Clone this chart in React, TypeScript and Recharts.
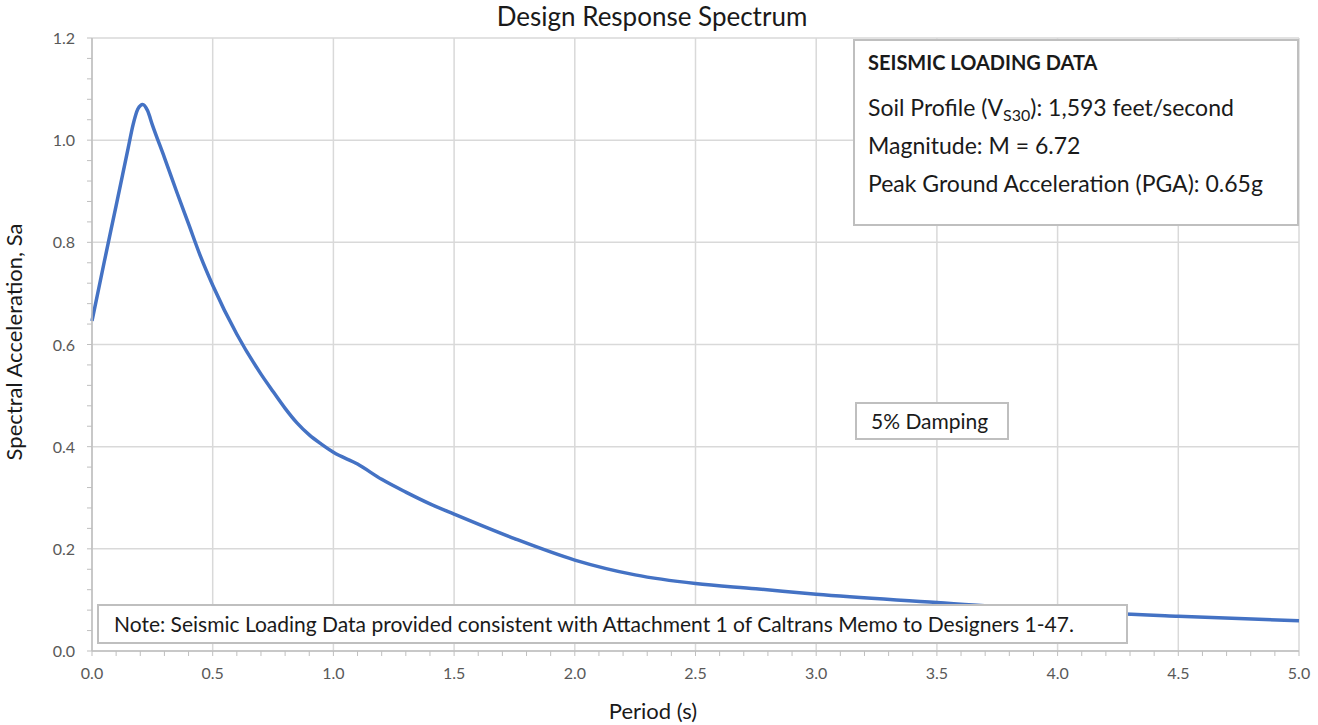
import React from 'react';
import { LineChart, Line, XAxis, YAxis, CartesianGrid } from 'recharts';

// period (s) vs spectral acceleration (g)
const periods = [0.0, 0.05, 0.1, 0.15, 0.17, 0.19, 0.21, 0.23, 0.25, 0.3, 0.35, 0.4, 0.45, 0.5, 0.6, 0.7, 0.75, 0.8, 0.85, 0.9, 0.95, 1.0, 1.1, 1.2, 1.3, 1.4, 1.5, 1.75, 2.0, 2.25, 2.5, 2.75, 3.0, 3.5, 4.0, 4.5, 5.0];
const saValues = [0.646, 0.76, 0.872, 0.985, 1.03, 1.061, 1.07, 1.058, 1.03, 0.966, 0.9, 0.836, 0.772, 0.716, 0.62, 0.542, 0.508, 0.475, 0.446, 0.423, 0.405, 0.389, 0.366, 0.336, 0.311, 0.288, 0.268, 0.22, 0.178, 0.149, 0.132, 0.122, 0.111, 0.095, 0.079, 0.068, 0.059];

const xMajor = [0, 0.5, 1, 1.5, 2, 2.5, 3, 3.5, 4, 4.5, 5];
const yMajor = [0, 0.2, 0.4, 0.6, 0.8, 1.0, 1.2];
const xMinor = Array.from({ length: 51 }, (_, i) => +(i * 0.1).toFixed(2));
const yMinor = Array.from({ length: 31 }, (_, i) => +(i * 0.04).toFixed(2));

const infoLines = [
  'Magnitude: M = 6.72',
  'Peak Ground Acceleration (PGA): 0.65g',
];
const noteText = 'Note: Seismic Loading Data provided consistent with Attachment 1 of Caltrans Memo to Designers 1-47.';

const data = periods.map((p, i) => ({ period: p, sa: saValues[i] }));

const FONT = 'Lato, "Open Sans", sans-serif';
const TICK_COLOR = '#595959';

const isMajor = (v: number, step: number) => Math.abs(v / step - Math.round(v / step)) < 1e-6;

const XTick = (props: any) => {
  const { x, y, payload } = props;
  if (!isMajor(payload.value, 0.5)) return null;
  return (
    <text x={x} y={y} dy={13} textAnchor="middle" fill={TICK_COLOR} fontSize={16} fontFamily={FONT}>
      {payload.value.toFixed(1)}
    </text>
  );
};

const YTick = (props: any) => {
  const { x, y, payload } = props;
  if (!isMajor(payload.value, 0.2)) return null;
  return (
    <text x={x} y={y} dy={6} textAnchor="end" fill={TICK_COLOR} fontSize={16} fontFamily={FONT}>
      {payload.value.toFixed(1)}
    </text>
  );
};

const boxStyle: React.CSSProperties = {
  position: 'absolute',
  background: '#fff',
  border: '2px solid #bfbfbf',
  boxSizing: 'border-box',
  fontFamily: FONT,
  color: '#1a1a1a',
};

const lineAt = (center: number, size: number): React.CSSProperties => ({
  position: 'absolute',
  left: 13,
  top: center - 15,
  lineHeight: '30px',
  fontSize: size,
  whiteSpace: 'nowrap',
});

const App: React.FC = () => {
  return (
    <div style={{ position: 'absolute', left: 0, top: 0, width: 1318, height: 725, background: '#fff' }}>
      <LineChart width={1318} height={725} data={data} margin={{ top: 38, right: 19, bottom: 44, left: 32 }}>
        <CartesianGrid stroke="#d9d9d9" strokeWidth={1.5} verticalValues={xMajor} horizontalValues={yMajor} />
        <XAxis
          dataKey="period"
          type="number"
          domain={[0, 5]}
          ticks={xMinor}
          interval={0}
          height={30}
          tickSize={5}
          tickMargin={10}
          tick={<XTick />}
          axisLine={{ stroke: '#bfbfbf', strokeWidth: 1.5 }}
          tickLine={{ stroke: '#bfbfbf' }}
        />
        <YAxis
          type="number"
          domain={[0, 1.2]}
          ticks={yMinor}
          interval={0}
          width={60}
          tickSize={5}
          tickMargin={12}
          tick={<YTick />}
          axisLine={{ stroke: '#bfbfbf', strokeWidth: 1.5 }}
          tickLine={{ stroke: '#bfbfbf' }}
        />
        <Line
          type="monotone"
          dataKey="sa"
          stroke="#4472c4"
          strokeWidth={3.5}
          dot={false}
          isAnimationActive={false}
        />
      </LineChart>

      <svg width={1318} height={725} style={{ position: 'absolute', left: 0, top: 0, pointerEvents: 'none' }}>
        <text x={652} y={26} textAnchor="middle" fontSize={26} fontFamily={FONT} fill="#1a1a1a">
          Design Response Spectrum
        </text>
        <text x={653} y={719} textAnchor="middle" fontSize={22} fontFamily={FONT} fill="#1a1a1a">
          Period (s)
        </text>
        <text
          x={0}
          y={0}
          transform="translate(22,342) rotate(-90)"
          textAnchor="middle"
          fontSize={22}
          fontFamily={FONT}
          fill="#1a1a1a"
        >
          Spectral Acceleration, Sa
        </text>
      </svg>

      <div style={{ ...boxStyle, left: 853, top: 39, width: 446, height: 187 }}>
        <div style={{ ...lineAt(62 - 41, 20), fontWeight: 700 }}>SEISMIC LOADING DATA</div>
        <div style={lineAt(107 - 41, 23)}>
          Soil Profile (V<span style={{ fontSize: 16, position: 'relative', top: 5 }}>S30</span>): 1,593 feet/second
        </div>
        {infoLines.map((t, i) => (
          <div key={t} style={lineAt(145 + i * 38 - 41, 23)}>{t}</div>
        ))}
      </div>

      <div style={{ ...boxStyle, left: 855, top: 402, width: 154, height: 38 }}>
        <div style={{ ...lineAt(421 - 404, 21), left: 14 }}>5% Damping</div>
      </div>

      <div style={{ ...boxStyle, left: 97, top: 604, width: 1031, height: 40 }}>
        <div style={{ ...lineAt(624 - 606, 21), left: 15 }}>{noteText}</div>
      </div>
    </div>
  );
};

export default App;
